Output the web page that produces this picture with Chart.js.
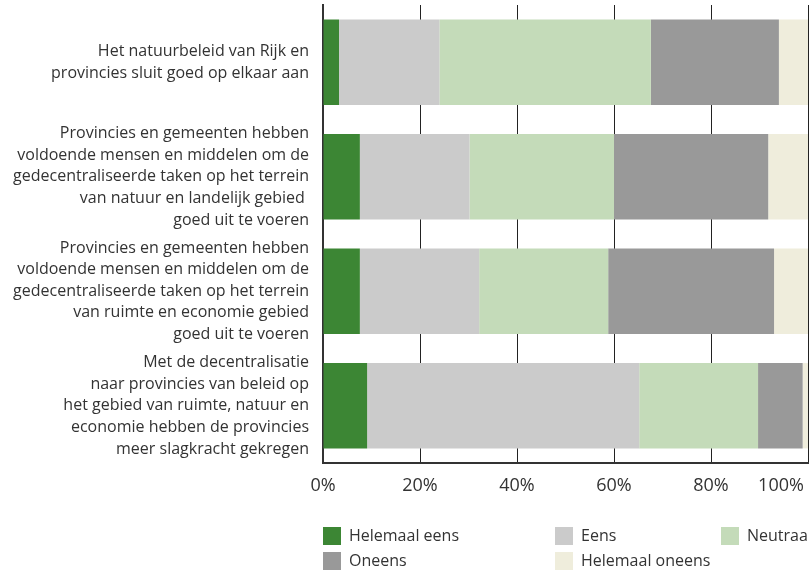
<!DOCTYPE html>
<html>
<head>
<meta charset="utf-8">
<script src="https://cdn.jsdelivr.net/npm/chart.js@4"></script>
<style>
  html, body { margin: 0; padding: 0; background: #fff; overflow: hidden; }
  #wrap { position: relative; width: 809px; height: 573px; overflow: hidden; }
  #legend { position: absolute; left: 0; top: 0; font-family: "Open Sans", sans-serif; font-size: 16px; color: #333; }
  .item { position: absolute; white-space: nowrap; line-height: 18px; }
  .item span.box { position: absolute; left: 0; top: 0; width: 18px; height: 18px; }
  .item span.txt { position: absolute; left: 26px; top: -1px; }
</style>
</head>
<body>
<div id="wrap">
  <canvas id="chart" width="809" height="573"></canvas>
  <div id="legend"></div>
</div>
<script>
// Statements (categories)
const categories = [
    ['Het natuurbeleid van Rijk en', 'provincies sluit goed op elkaar aan'],
    ['Provincies en gemeenten hebben', 'voldoende mensen en middelen om de', 'gedecentraliseerde taken op het terrein', 'van natuur en landelijk gebied ', 'goed uit te voeren'],
    ['Provincies en gemeenten hebben', 'voldoende mensen en middelen om de', 'gedecentraliseerde taken op het terrein', 'van ruimte en economie gebied', 'goed uit te voeren'],
    ['Met de decentralisatie', 'naar provincies van beleid op', 'het gebied van ruimte, natuur en', 'economie hebben de provincies', 'meer slagkracht gekregen']
];

const seriesNames = ['Helemaal eens', 'Eens', 'Neutraal', 'Oneens', 'Helemaal oneens'];

// percentages per statement
const helemaalEens   = [3.3, 7.6, 7.6, 9.1];
const eens           = [20.7, 22.6, 24.6, 56.1];
const neutraal       = [43.6, 29.8, 26.6, 24.5];
const oneens         = [26.4, 31.8, 34.2, 9.2];
const helemaalOneens = [6.0, 8.2, 7.0, 1.1];

const xTicks = [0, 20, 40, 60, 80, 100];

const colors = ['#3c8634', '#cbcbcb', '#c4dbb9', '#999999', '#efeddc'];
const seriesValues = [helemaalEens, eens, neutraal, oneens, helemaalOneens];

const datasets = seriesNames.map((name, i) => ({
    label: name,
    data: seriesValues[i],
    backgroundColor: colors[i],
    borderWidth: 0,
    categoryPercentage: 1,
    barPercentage: 0.745
}));

// keep the last x label ("100%") inside the canvas, like the original
const shiftLastTick = {
    id: 'shiftLastTick',
    beforeDraw(chart) {
        const items = chart.scales.x.getLabelItems();
        const last = items[items.length - 1];
        if (last && !last._shifted) {
            last.options.translation[0] -= 27;
            last._shifted = true;
        }
    }
};

new Chart(document.getElementById('chart'), {
    type: 'bar',
    data: { labels: categories, datasets: datasets },
    plugins: [shiftLastTick],
    options: {
        indexAxis: 'y',
        responsive: false,
        animation: false,
        layout: { padding: { top: 5, left: 10, right: 1, bottom: 70 } },
        plugins: { legend: { display: false }, tooltip: { enabled: false } },
        scales: {
            x: {
                stacked: true,
                min: 0,
                max: 100,
                afterBuildTicks: (scale) => { scale.ticks = xTicks.map(v => ({ value: v })); },
                afterFit: (scale) => { scale.height = 40; scale.paddingRight = 0; },
                grid: { color: '#222', lineWidth: 1, drawTicks: false },
                border: { display: true, color: '#333', width: 2 },
                ticks: {
                    padding: 12,
                    color: '#333',
                    font: { family: 'Open Sans', size: 18 },
                    maxRotation: 0,
                    autoSkip: false,
                    callback: (v) => v + '%'
                }
            },
            y: {
                stacked: true,
                afterFit: (scale) => { scale.width = 313; scale.paddingTop = 0; scale.paddingBottom = 0; },
                grid: { display: false, drawTicks: false },
                border: { display: true, color: '#333', width: 2 },
                ticks: {
                    padding: 14,
                    color: '#333',
                    autoSkip: false,
                    font: { family: 'Open Sans', size: 16, lineHeight: 1.35 }
                }
            }
        }
    }
});

// legend laid out as in the original: 3 columns, 2 rows
const legendPos = [[323, 527], [555, 527], [721, 527], [323, 552], [555, 552]];
const legend = document.getElementById('legend');
seriesNames.forEach((name, i) => {
    const d = document.createElement('div');
    d.className = 'item';
    d.style.left = legendPos[i][0] + 'px';
    d.style.top = legendPos[i][1] + 'px';
    d.innerHTML = '<span class="box" style="background:' + colors[i] + '"></span><span class="txt">' + name + '</span>';
    legend.appendChild(d);
});
</script>
</body>
</html>
